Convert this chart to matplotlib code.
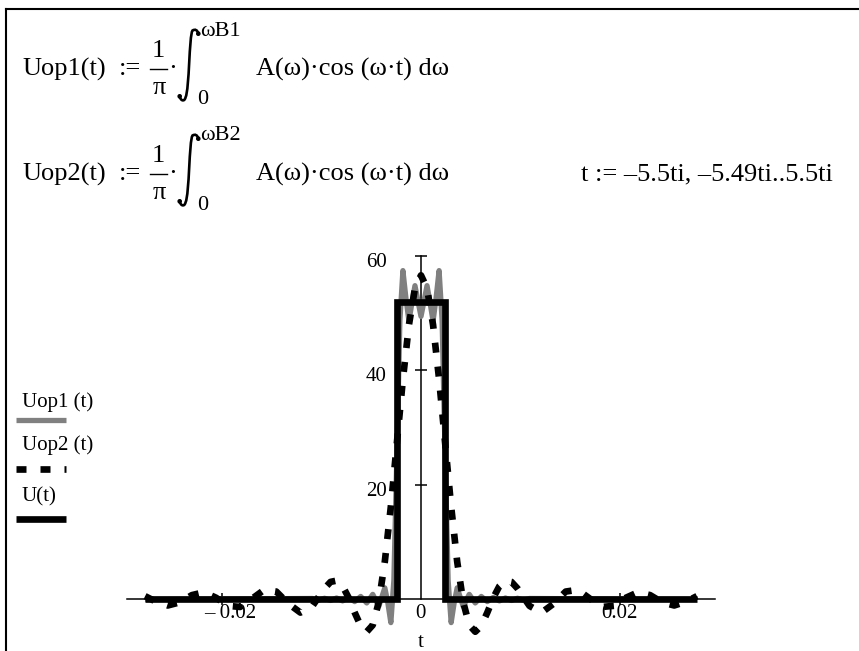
import matplotlib
matplotlib.use("Agg")
import matplotlib.pyplot as plt
from matplotlib.lines import Line2D
from matplotlib.path import Path
from matplotlib.patches import PathPatch, Circle
from matplotlib.transforms import Affine2D

# ---------------- data ----------------
t_U = [-0.0278, -0.00243, -0.00243, 0.00243, 0.00243, 0.0278]
U_vals = [0, 0, 52, 52, 0, 0]

t_op1 = [-0.0278, -0.010935, -0.010328, -0.00972, -0.009113, -0.008505, -0.007898,
         -0.00729, -0.006683, -0.006075, -0.005468, -0.00486, -0.004253, -0.003645,
         -0.003341, -0.003038, -0.002734, -0.00243, -0.002126, -0.001823, -0.001519,
         -0.001215, -0.000911, -0.000608, -0.000304, 0.0,
         0.000304, 0.000608, 0.000911, 0.001215, 0.001519, 0.001823, 0.002126,
         0.00243, 0.002734, 0.003038, 0.003341, 0.003645, 0.004253, 0.00486,
         0.005468, 0.006075, 0.006683, 0.00729, 0.007898, 0.008505, 0.009113,
         0.00972, 0.010328, 0.010935, 0.0278]
Uop1_vals = [0.0, 0.14, -0.15, 0.18, -0.20, 0.23, -0.28,
             0.33, -0.40, 0.50, -0.64, 0.86, -1.24, 2.00,
             -0.61, -4.07, 3.29, 25.34, 48.72, 57.40, 52.59,
             48.60, 51.79, 54.77, 52.05, 49.40,
             52.05, 54.77, 51.79, 48.60, 52.59, 57.40, 48.72,
             25.34, 3.29, -4.07, -0.61, 2.00, -1.24, 0.86,
             -0.64, 0.50, -0.40, 0.33, -0.28, 0.23, -0.20,
             0.18, -0.15, 0.14, 0.0]

t_op2 = [-0.0278, -0.02673, -0.025515, -0.0243, -0.023085, -0.02187, -0.020655,
         -0.01944, -0.018225, -0.01701, -0.015795, -0.01458, -0.013365, -0.01215,
         -0.010935, -0.00972, -0.009113, -0.008505, -0.007898, -0.00729, -0.006683,
         -0.006075, -0.005468, -0.00486, -0.004253, -0.003645, -0.003038, -0.00243,
         -0.001823, -0.001215, -0.000608, 0.0,
         0.000608, 0.001215, 0.001823, 0.00243, 0.003038, 0.003645, 0.004253,
         0.00486, 0.005468, 0.006075, 0.006683, 0.00729, 0.007898, 0.008505,
         0.009113, 0.00972, 0.010935, 0.01215, 0.013365, 0.01458, 0.015795,
         0.01701, 0.018225, 0.01944, 0.020655, 0.02187, 0.023085, 0.0243,
         0.025515, 0.02673, 0.0278]
Uop2_vals = [0.55, -0.39, -1.08, -0.53, 0.73, 1.23, 0.28,
             -1.14, -1.34, 0.12, 1.66, 1.35, -0.76, -2.32,
             -1.16, 1.90, 3.04, 3.26, 2.30, 0.28, -2.31,
             -4.63, -5.67, -4.50, -0.47, 6.59, 16.20, 27.31,
             38.43, 47.93, 54.32, 56.57,
             54.32, 47.93, 38.43, 27.31, 16.20, 6.59, -0.47,
             -4.50, -5.67, -4.63, -2.31, 0.28, 2.30, 3.26,
             3.04, 1.90, -1.16, -2.32, -0.76, 1.35, 1.66,
             0.12, -1.34, -1.14, 0.28, 1.23, 0.73, -0.53,
             -1.08, -0.39, 0.55]

x_ticks = [-0.02, 0.02]
x_tick_labels = ["\u2013 0.02", "0.02"]
y_ticks = [20, 40, 60]
y_tick_labels = ["20", "40", "60"]
x_label = "t"
legend_labels = ["Uop1 (t)", "Uop2 (t)", "U(t)"]
eq_names = ["Uop1(t)", "Uop2(t)"]
eq_uppers = ["\u03c9B1", "\u03c9B2"]
eq_integrand = "A(\u03c9)\u00b7cos (\u03c9\u00b7t) d\u03c9"
range_def = "t := \u20135.5ti, \u20135.49ti..5.5ti"

# ---------------- styling ----------------
W, H = 859, 651
GRAY = "#808080"
FONT = "Liberation Serif"
plt.rcParams["font.family"] = [FONT, "DejaVu Serif"]

fig = plt.figure(figsize=(W / 100, H / 100), dpi=100)
PIX = Affine2D().scale(1, -1).translate(0, H)  # pixel coords, y measured downward


def fx(px):
    return px / W


def fy(py):
    return 1 - py / H


# axes placement (pixel geometry of the reference)
ax_left, ax_right = 127, 715
y_top_px, y_zero_px = 255.7, 599.3
px_per_unit_y = (y_zero_px - y_top_px) / 60.0
ymin = -10
y_bot_px = y_zero_px - ymin * px_per_unit_y
ax = fig.add_axes([fx(ax_left), fy(y_bot_px), (ax_right - ax_left) / W,
                   (y_bot_px - y_top_px) / H])
ax.set_xlim(-0.029622, 0.029622)
ax.set_ylim(ymin, 60)
ax.patch.set_alpha(0)

ax.plot(t_op1, Uop1_vals, color=GRAY, lw=3.8, solid_joinstyle="round",
        solid_capstyle="butt", zorder=3)
ax.plot(t_op2, Uop2_vals, color="black", lw=4.8, linestyle=(0, (1.5, 2.1)),
        dash_capstyle="butt", zorder=4)
ax.plot(t_U, U_vals, color="black", lw=4.8, solid_joinstyle="miter",
        solid_capstyle="butt", zorder=5)

for s in ["top", "right"]:
    ax.spines[s].set_visible(False)
ax.spines["left"].set_position(("data", 0))
ax.spines["bottom"].set_position(("data", 0))
ax.spines["left"].set_bounds(0, 60)
for s in ["left", "bottom"]:
    ax.spines[s].set_linewidth(1.1)
    ax.spines[s].set_zorder(2)
ax.set_xticks(x_ticks)
ax.set_yticks(y_ticks)
ax.set_xticklabels([])
ax.set_yticklabels([])
ax.tick_params(axis="both", direction="inout", length=9, width=1.1)

for v, lab in zip(y_ticks, y_tick_labels):
    ax.annotate(lab, xy=(0, v), xytext=(-34, -11), textcoords="offset pixels",
                ha="right", va="baseline", fontsize=15)
for v, lab, dx in zip(x_ticks, x_tick_labels, [8, 0]):
    ax.annotate(lab, xy=(v, 0), xytext=(dx, -19), textcoords="offset pixels",
                ha="center", va="baseline", fontsize=15)
ax.annotate("0", xy=(0, 0), xytext=(-1, -19), textcoords="offset pixels",
            ha="center", va="baseline", fontsize=15)
ax.annotate(x_label, xy=(0, 0), xytext=(0, -48), textcoords="offset pixels",
            ha="center", va="baseline", fontsize=15)

# ---------------- legend (left side) ----------------
leg_text_base = [407, 450, 501]
leg_line_y = [420, 469.3, 519.3]
styles = [dict(color=GRAY, lw=3.8),
          dict(color="black", lw=4.8, linestyle=(0, (1.5, 2.1)), dash_capstyle="butt"),
          dict(color="black", lw=4.8)]
for lab, tb, ly, st in zip(legend_labels, leg_text_base, leg_line_y, styles):
    fig.text(fx(22), fy(tb), lab, fontsize=15, ha="left", va="baseline")
    fig.add_artist(Line2D([fx(16), fx(66)], [fy(ly), fy(ly)],
                          transform=fig.transFigure, solid_capstyle="butt", **st))

# ---------------- frame ----------------
fig.add_artist(Line2D([fx(6), fx(6)], [fy(8.5), fy(651)], transform=fig.transFigure,
                      color="black", lw=1.5))
fig.add_artist(Line2D([fx(6), fx(859)], [fy(8.5), fy(8.5)], transform=fig.transFigure,
                      color="black", lw=1.5))


# ---------------- equations ----------------
def integral_sign(yc):
    verts = [(198.5, yc - 35.5), (196.5, yc - 41.0), (192.5, yc - 38.5),
             (189.0, yc - 33.0), (189.5, yc + 20.0), (185.5, yc + 28.5),
             (184.5, yc + 33.0), (180.5, yc + 32.0), (179.5, yc + 27.0)]
    codes = [Path.MOVETO, Path.CURVE3, Path.CURVE3,
             Path.CURVE4, Path.CURVE4, Path.CURVE4,
             Path.CURVE4, Path.CURVE4, Path.CURVE4]
    fig.add_artist(PathPatch(Path(verts, codes), transform=PIX, fill=False,
                             lw=1.9, edgecolor="black", capstyle="round"))
    for cx, cy in [(198.3, yc - 35.3), (179.7, yc + 27.3)]:
        fig.add_artist(Circle((cx, cy), 1.6, transform=PIX, color="black"))


def equation(yc, name, upper):
    fs = 19
    fig.text(fx(22), fy(yc), name, fontsize=fs, ha="left", va="center")
    fig.text(fx(141.5), fy(yc), ":=", fontsize=fs, ha="right", va="center")
    fig.text(fx(158.5), fy(yc - 18), "1", fontsize=fs, ha="center", va="center")
    fig.add_artist(Line2D([fx(150), fx(167)], [fy(yc), fy(yc)],
                          transform=fig.transFigure, color="black", lw=1.0))
    fig.text(fx(159.5), fy(yc + 19), "\u03c0", fontsize=fs, ha="center", va="center")
    fig.text(fx(173), fy(yc), "\u00b7", fontsize=fs, ha="center", va="center")
    integral_sign(yc)
    fig.text(fx(200), fy(yc - 38), upper, fontsize=16, ha="left", va="center")
    fig.text(fx(197.5), fy(yc + 31), "0", fontsize=16, ha="left", va="center")
    fig.text(fx(256), fy(yc), eq_integrand, fontsize=fs, ha="left", va="center")


row_centers = [69, 174]
for yc, name, up in zip(row_centers, eq_names, eq_uppers):
    equation(yc, name, up)
fig.text(fx(581), fy(row_centers[1]), range_def, fontsize=19, ha="left", va="center")

fig.savefig("out.png", dpi=100)
